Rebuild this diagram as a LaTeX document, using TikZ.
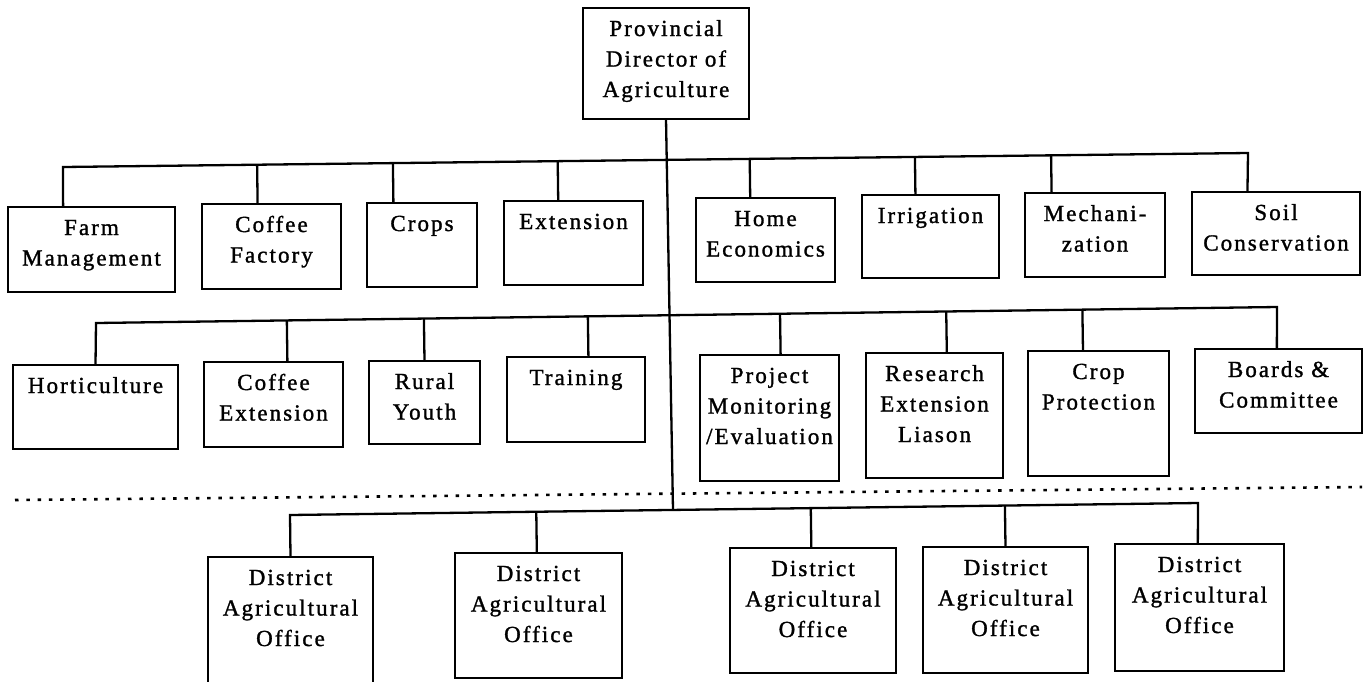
\documentclass[tikz,border=0pt]{standalone}
\usepackage{fontspec}
\setmainfont{Liberation Serif}[LetterSpace=9, FakeBold=1.3]
\usetikzlibrary{calc}
\tikzset{
  orgbox/.style={draw, line width=2.3pt, inner sep=0pt, outer sep=0pt, anchor=north west},
  link/.style={line width=2.3pt},
  sepline/.style={line width=2.6pt, dash pattern=on 3.5pt off 7.8pt},
}
% #1 name, #2 x1, #3 y1, #4 x2, #5 y2, #6 text
\newcommand\orgbox[6]{\node[orgbox] (#1) at (#2,#3) {\parbox[c][\dimexpr#5pt-#3pt\relax][t]{\dimexpr#4pt-#2pt\relax}{\centering\rule{0pt}{28pt}#6\par}};}
% #1 node, #2 fraction along top, #3 busL, #4 busR
\newcommand\dropline[4]{%
  \coordinate (#1-c) at ($(#1.north west)!#2!(#1.north east)$);
  \draw[link] (#1-c) -- ($(#3)!(#1-c)!(#4)$);}
\begin{document}
\begin{tikzpicture}[x=1pt, y=-1pt, font=\fontsize{23}{30.5}\selectfont]
\useasboundingbox (0,0) rectangle (1364,681);

% top
\orgbox{prov}{583}{8}{749}{119}{Provincial\\Director of\\Agriculture}

% row 1
\orgbox{fm}{8}{207}{175}{292}{Farm\\Management}
\orgbox{cf}{202}{204}{341}{289}{Coffee\\Factory}
\orgbox{cr}{367}{203}{477}{287}{Crops}
\orgbox{ex}{504}{201}{643}{285}{Extension}
\orgbox{he}{696}{198}{835}{282}{Home\\Economics}
\orgbox{ir}{862}{195}{999}{278}{Irrigation}
\orgbox{me}{1025}{193}{1165}{277}{Mechani-\\zation}
\orgbox{sc}{1192}{192}{1360}{275}{Soil\\Conservation}

% row 2
\orgbox{ho}{13}{365}{178}{449}{Horticulture}
\orgbox{ce}{204}{362}{343}{447}{Coffee\\Extension}
\orgbox{ry}{369}{361}{480}{444}{Rural\\Youth}
\orgbox{tr}{507}{357}{645}{442}{Training}
\orgbox{pm}{700}{355}{839}{481}{Project\\Monitoring\\/Evaluation}
\orgbox{re}{866}{353}{1003}{478}{Research\\Extension\\Liason}
\orgbox{cp}{1028}{351}{1169}{476}{Crop\\Protection}
\orgbox{bc}{1195}{349}{1362}{433}{Boards \&\\Committee}

% district offices
\orgbox{d1}{208}{557}{373}{700}{District\\Agricultural\\Office}
\orgbox{d2}{455}{553}{622}{678}{District\\Agricultural\\Office}
\orgbox{d3}{730}{548}{896}{673}{District\\Agricultural\\Office}
\orgbox{d4}{923}{547}{1088}{673}{District\\Agricultural\\Office}
\orgbox{d5}{1115}{544}{1284}{671}{District\\Agricultural\\Office}

% buses
\coordinate (b1L) at (63,167);
\coordinate (b1R) at (1248,153);
\coordinate (b2L) at (96,323);
\coordinate (b2R) at (1277,307);
\coordinate (bdL) at (290,515);
\coordinate (bdR) at (1198,503);
\coordinate (tb) at ($(bdL)!0.4218!(bdR)$);

% trunk
\draw[link] (prov.south) -- (tb);

% row 1 connectors
\coordinate (fm-c) at ($(fm.north west)!0.33!(fm.north east)$);
\coordinate (sc-c) at ($(sc.north west)!0.33!(sc.north east)$);
\draw[link] (fm-c) -- (b1L) -- (b1R) -- (sc-c);
\dropline{cf}{0.40}{b1L}{b1R}
\dropline{cr}{0.24}{b1L}{b1R}
\dropline{ex}{0.39}{b1L}{b1R}
\dropline{he}{0.39}{b1L}{b1R}
\dropline{ir}{0.39}{b1L}{b1R}
\dropline{me}{0.19}{b1L}{b1R}

% row 2 connectors
\coordinate (ho-c) at ($(ho.north west)!0.50!(ho.north east)$);
\coordinate (bc-c) at ($(bc.north west)!0.49!(bc.north east)$);
\draw[link] (ho-c) -- (b2L) -- (b2R) -- (bc-c);
\dropline{ce}{0.60}{b2L}{b2R}
\dropline{ry}{0.50}{b2L}{b2R}
\dropline{tr}{0.59}{b2L}{b2R}
\dropline{pm}{0.58}{b2L}{b2R}
\dropline{re}{0.59}{b2L}{b2R}
\dropline{cp}{0.39}{b2L}{b2R}

% district connectors
\coordinate (d1-c) at ($(d1.north west)!0.50!(d1.north east)$);
\coordinate (d5-c) at ($(d5.north west)!0.49!(d5.north east)$);
\draw[link] (d1-c) -- (bdL) -- (bdR) -- (d5-c);
\dropline{d2}{0.49}{bdL}{bdR}
\dropline{d3}{0.49}{bdL}{bdR}
\dropline{d4}{0.50}{bdL}{bdR}

% dotted separator
\coordinate (dL) at (15,500);
\coordinate (dR) at (1362,487);
\draw[sepline] (dL) -- (dR);
\end{tikzpicture}
\end{document}
